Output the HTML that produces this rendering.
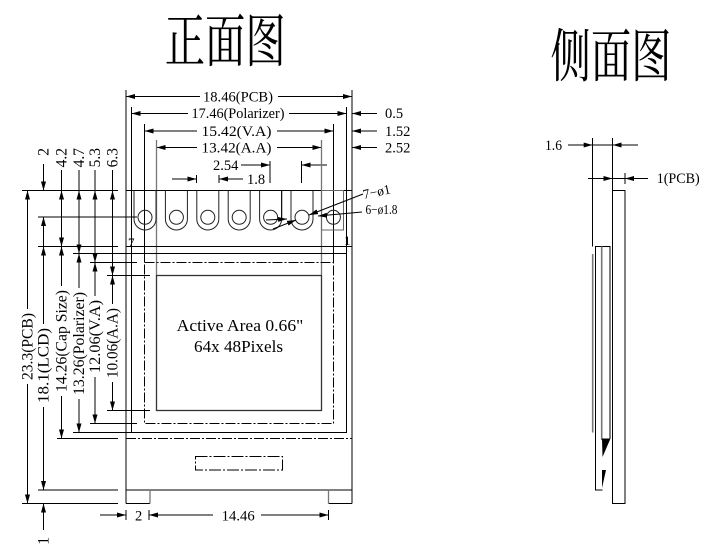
<!DOCTYPE html>
<html><head><meta charset="utf-8"><style>
html,body{margin:0;padding:0;background:#fff;}
svg{display:block;}
text{font-family:"Liberation Serif","Noto Serif CJK SC",serif;fill:#000;}
.cjk{font-family:"Noto Serif CJK SC","Noto Sans CJK SC",serif;}
</style></head><body>
<svg width="714" height="547" viewBox="0 0 714 547" xmlns="http://www.w3.org/2000/svg">
<defs>
<marker id="a" markerWidth="9" markerHeight="5" refX="9" refY="2.5" orient="auto" markerUnits="userSpaceOnUse"><path d="M0,0L9,2.5L0,5z" fill="#000"/></marker>
</defs>
<rect x="0" y="0" width="714" height="547" fill="#fff"/>

<!-- titles -->
<text class="cjk" x="164.7" y="61.5" font-size="58" textLength="121" lengthAdjust="spacingAndGlyphs">正面图</text>
<text class="cjk" x="550.5" y="76.5" font-size="58" textLength="121" lengthAdjust="spacingAndGlyphs">侧面图</text>

<g stroke="#000" stroke-width="1" fill="none">
<!-- top horizontal dims -->
<line x1="200" y1="96.5" x2="126" y2="96.5" marker-end="url(#a)"/>
<line x1="278" y1="96.5" x2="352" y2="96.5" marker-end="url(#a)"/>
<line x1="188" y1="113.5" x2="131.5" y2="113.5" marker-end="url(#a)"/>
<line x1="289" y1="113.5" x2="346.5" y2="113.5" marker-end="url(#a)"/>
<line x1="377" y1="113.5" x2="352" y2="113.5" marker-end="url(#a)"/>
<line x1="197" y1="131" x2="144.5" y2="131" marker-end="url(#a)"/>
<line x1="277" y1="131" x2="333.5" y2="131" marker-end="url(#a)"/>
<line x1="377" y1="131" x2="352" y2="131" marker-end="url(#a)"/>
<line x1="197" y1="147.5" x2="156.5" y2="147.5" marker-end="url(#a)"/>
<line x1="277" y1="147.5" x2="321.5" y2="147.5" marker-end="url(#a)"/>
<line x1="377" y1="147.5" x2="352" y2="147.5" marker-end="url(#a)"/>
<!-- 2.54 -->
<line x1="241" y1="165" x2="270" y2="165" marker-end="url(#a)"/>
<line x1="327" y1="165" x2="301.5" y2="165" marker-end="url(#a)"/>
<line x1="270" y1="161" x2="270" y2="183"/>
<line x1="301.5" y1="161" x2="301.5" y2="183"/>
<!-- 1.8 -->
<line x1="172" y1="179" x2="196.5" y2="179" marker-end="url(#a)"/>
<line x1="243" y1="179" x2="219" y2="179" marker-end="url(#a)"/>
<line x1="196.5" y1="175" x2="196.5" y2="183"/>
<line x1="219" y1="175" x2="219" y2="183"/>

<!-- vertical extension lines -->
<line x1="126" y1="90" x2="126" y2="503.5"/>
<line x1="352" y1="90" x2="352" y2="503.5"/>
<line x1="131.5" y1="107" x2="131.5" y2="432.5"/>
<line x1="346.5" y1="107" x2="346.5" y2="432.5"/>
<line x1="144.5" y1="124" x2="144.5" y2="262.5"/>
<line x1="333.5" y1="124" x2="333.5" y2="262.5"/>
<line x1="156.5" y1="140" x2="156.5" y2="275.5" stroke="#777" stroke-width="1.3"/>
<line x1="321.5" y1="140" x2="321.5" y2="275.5" stroke="#777" stroke-width="1.3"/>

<!-- PCB top -->
<line x1="22" y1="190.5" x2="118" y2="190.5"/>
<line x1="126" y1="190.5" x2="352" y2="190.5"/>

<!-- slots -->
<g stroke="#222">
<path d="M134,190.5V219A11,11 0 0 0 156,219V190.5"/>
<path d="M165.4,190.5V219A11,11 0 0 0 187.4,219V190.5"/>
<path d="M196.8,190.5V219A11,11 0 0 0 218.8,219V190.5"/>
<path d="M228.2,190.5V219A11,11 0 0 0 250.2,219V190.5"/>
<path d="M259.6,190.5V219A11,11 0 0 0 281.6,219V190.5"/>
<path d="M291,190.5V219A11,11 0 0 0 313,219V190.5"/>
<circle cx="145" cy="217.3" r="7"/>
<circle cx="176.4" cy="217.3" r="7"/>
<circle cx="207.8" cy="217.3" r="7"/>
<circle cx="239.2" cy="217.3" r="7"/>
<circle cx="270.6" cy="217.3" r="7"/>
<circle cx="302" cy="217.3" r="7"/>
<circle cx="333.4" cy="217.3" r="7"/>
</g>
<rect x="321.5" y="190.5" width="22" height="39.5" stroke="#666"/>
<line x1="281.7" y1="190.5" x2="281.7" y2="219"/>

<!-- leaders -->
<line x1="363" y1="194" x2="309" y2="215" marker-end="url(#a)"/>
<line x1="273" y1="229" x2="296" y2="220" marker-end="url(#a)"/>
<line x1="266" y1="220" x2="287" y2="219" marker-end="url(#a)"/>
<line x1="362" y1="212" x2="318" y2="216" marker-end="url(#a)"/>

<!-- pin line -->
<line x1="38" y1="217" x2="137" y2="217"/>

<!-- LCD -->
<line x1="38" y1="246.5" x2="118" y2="246.5"/>
<line x1="126" y1="246.5" x2="352" y2="246.5"/>
<line x1="73" y1="253.5" x2="131.5" y2="253.5"/>
<line x1="90" y1="262.5" x2="137" y2="262.5"/>
<line x1="107" y1="275.5" x2="150" y2="275.5"/>
<rect x="131.5" y="253.5" width="215" height="179"/>
<rect x="144.5" y="262.5" width="189" height="161" stroke-dasharray="10 2 2 2"/>
<rect x="156.5" y="275.5" width="165" height="135" stroke="#333" stroke-width="1.3"/>
<line x1="107" y1="410.5" x2="150" y2="410.5"/>
<line x1="90" y1="423.5" x2="137" y2="423.5"/>
<line x1="73" y1="432.5" x2="131.5" y2="432.5"/>
<line x1="57" y1="438.5" x2="118" y2="438.5"/>
<line x1="126" y1="438.5" x2="352" y2="438.5" stroke-dasharray="10 2 2 2"/>
<rect x="195.5" y="456.5" width="87" height="13.5" stroke-dasharray="12 2 2 2"/>
<line x1="38" y1="490" x2="118" y2="490"/>
<line x1="126" y1="490" x2="352" y2="490"/>
<line x1="22" y1="503.5" x2="118" y2="503.5"/>
<!-- feet -->
<line x1="126" y1="503.5" x2="150" y2="503.5"/>
<line x1="150" y1="490" x2="150" y2="503.5" stroke="#777" stroke-width="1.3"/>
<line x1="328.5" y1="503.5" x2="352" y2="503.5"/>
<line x1="328.5" y1="490" x2="328.5" y2="503.5" stroke="#777" stroke-width="1.3"/>

<!-- bottom dims -->
<line x1="100" y1="515" x2="126" y2="515" marker-end="url(#a)"/>
<line x1="213" y1="515" x2="149" y2="515" marker-end="url(#a)"/>
<line x1="261" y1="515" x2="328.5" y2="515" marker-end="url(#a)"/>
<line x1="126" y1="510" x2="126" y2="520"/>
<line x1="149" y1="510" x2="149" y2="520"/>
<line x1="328.5" y1="510" x2="328.5" y2="520"/>

<!-- vertical dims -->
<line x1="27.5" y1="309" x2="27.5" y2="190.5" marker-end="url(#a)"/>
<line x1="27.5" y1="384" x2="27.5" y2="503.5" marker-end="url(#a)"/>

<line x1="43.5" y1="164" x2="43.5" y2="190.5" marker-end="url(#a)"/>
<line x1="43.5" y1="246.5" x2="43.5" y2="217" marker-end="url(#a)"/>
<line x1="43.5" y1="324" x2="43.5" y2="246.5" marker-end="url(#a)"/>
<line x1="43.5" y1="407" x2="43.5" y2="490" marker-end="url(#a)"/>
<line x1="43.5" y1="530" x2="43.5" y2="503.5" marker-end="url(#a)"/>

<line x1="61.5" y1="170" x2="61.5" y2="190.5"/>
<line x1="61.5" y1="218" x2="61.5" y2="190.5" marker-end="url(#a)"/>
<line x1="61.5" y1="218" x2="61.5" y2="246.5" marker-end="url(#a)"/>
<line x1="61.5" y1="286" x2="61.5" y2="246.5" marker-end="url(#a)"/>
<line x1="61.5" y1="396" x2="61.5" y2="438.5" marker-end="url(#a)"/>

<line x1="79" y1="170" x2="79" y2="190.5"/>
<line x1="79" y1="222" x2="79" y2="190.5" marker-end="url(#a)"/>
<line x1="79" y1="222" x2="79" y2="253.5" marker-end="url(#a)"/>
<line x1="79" y1="288" x2="79" y2="253.5" marker-end="url(#a)"/>
<line x1="79" y1="399" x2="79" y2="432.5" marker-end="url(#a)"/>

<line x1="95" y1="170" x2="95" y2="190.5"/>
<line x1="95" y1="226" x2="95" y2="190.5" marker-end="url(#a)"/>
<line x1="95" y1="226" x2="95" y2="262.5" marker-end="url(#a)"/>
<line x1="95" y1="296" x2="95" y2="262.5" marker-end="url(#a)"/>
<line x1="95" y1="377" x2="95" y2="423.5" marker-end="url(#a)"/>

<line x1="112.5" y1="170" x2="112.5" y2="190.5"/>
<line x1="112.5" y1="233" x2="112.5" y2="190.5" marker-end="url(#a)"/>
<line x1="112.5" y1="233" x2="112.5" y2="275.5" marker-end="url(#a)"/>
<line x1="112.5" y1="304" x2="112.5" y2="275.5" marker-end="url(#a)"/>
<line x1="112.5" y1="382" x2="112.5" y2="410.5" marker-end="url(#a)"/>

<!-- side view -->
<line x1="568" y1="145" x2="592.7" y2="145" marker-end="url(#a)"/>
<line x1="638" y1="145" x2="612.7" y2="145" marker-end="url(#a)"/>
<line x1="592.7" y1="145" x2="612.7" y2="145"/>
<line x1="592.5" y1="138" x2="592.5" y2="246.5"/>
<line x1="612.5" y1="138" x2="612.5" y2="190.5"/>
<line x1="588" y1="178.5" x2="612.5" y2="178.5" marker-end="url(#a)"/>
<line x1="648" y1="178.5" x2="625" y2="178.5" marker-end="url(#a)"/>
<line x1="612.5" y1="178.5" x2="625" y2="178.5"/>
<line x1="625" y1="173" x2="625" y2="184"/>
<rect x="612.5" y="190.5" width="12.5" height="313"/>
<path d="M610,438.5V246.5H595.5V490H602.5"/>
<line x1="601.7" y1="246.5" x2="601.7" y2="440" stroke="#777" stroke-width="1.6"/>
<line x1="592.7" y1="254" x2="592.7" y2="432.5" stroke="#777" stroke-width="1.6"/>
</g>
<polygon points="602,438.5 610.5,438.5 602.5,457" fill="#000"/>
<polygon points="602,470 606,470 602,488" fill="#000"/>

<!-- top texts -->
<text x="203" y="101.5" font-size="14.5" textLength="70" lengthAdjust="spacingAndGlyphs">18.46(PCB)</text>
<text x="191.5" y="118" font-size="14.5" textLength="93" lengthAdjust="spacingAndGlyphs">17.46(Polarizer)</text>
<text x="201.5" y="136" font-size="14.5" textLength="70" lengthAdjust="spacingAndGlyphs">15.42(V.A)</text>
<text x="201.5" y="152.5" font-size="14.5" textLength="70" lengthAdjust="spacingAndGlyphs">13.42(A.A)</text>
<text x="385" y="118" font-size="14.5">0.5</text>
<text x="385" y="136" font-size="14.5">1.52</text>
<text x="385" y="152.5" font-size="14.5">2.52</text>
<text x="213" y="170" font-size="14.5">2.54</text>
<text x="247" y="184" font-size="14.5">1.8</text>
<text x="364" y="199" font-size="13.5" transform="rotate(-12 364 199)">7−ø1</text>
<text x="365.5" y="214" font-size="13.5" textLength="32" lengthAdjust="spacingAndGlyphs">6−ø1.8</text>
<text x="128" y="247" font-size="13">7</text>
<text x="344" y="245" font-size="13">1</text>

<!-- rotated top labels -->
<text transform="translate(48.5,148) rotate(-90)" text-anchor="end" font-size="15.5">2</text>
<text transform="translate(66.5,148) rotate(-90)" text-anchor="end" font-size="15.5">4.2</text>
<text transform="translate(84,148) rotate(-90)" text-anchor="end" font-size="15.5">4.7</text>
<text transform="translate(100,148) rotate(-90)" text-anchor="end" font-size="15.5">5.3</text>
<text transform="translate(117.5,148) rotate(-90)" text-anchor="end" font-size="15.5">6.3</text>

<!-- rotated lower labels -->
<text transform="translate(32.5,380) rotate(-90)" font-size="15.5" textLength="67" lengthAdjust="spacingAndGlyphs">23.3(PCB)</text>
<text transform="translate(48.5,403) rotate(-90)" font-size="15.5" textLength="75" lengthAdjust="spacingAndGlyphs">18.1(LCD)</text>
<text transform="translate(66.5,392) rotate(-90)" font-size="15.5" textLength="102" lengthAdjust="spacingAndGlyphs">14.26(Cap Size)</text>
<text transform="translate(84,395) rotate(-90)" font-size="15.5" textLength="103" lengthAdjust="spacingAndGlyphs">13.26(Polarizer)</text>
<text transform="translate(100,373) rotate(-90)" font-size="15.5" textLength="73" lengthAdjust="spacingAndGlyphs">12.06(V.A)</text>
<text transform="translate(117.5,378) rotate(-90)" font-size="15.5" textLength="70" lengthAdjust="spacingAndGlyphs">10.06(A.A)</text>
<text transform="translate(48.5,537) rotate(-90)" text-anchor="end" font-size="15.5">1</text>

<!-- center text -->
<text x="176.7" y="331" font-size="17" textLength="126.6" lengthAdjust="spacingAndGlyphs">Active Area 0.66"</text>
<text x="194" y="352" font-size="17" textLength="89" lengthAdjust="spacingAndGlyphs">64x 48Pixels</text>

<!-- bottom texts -->
<text x="135" y="520.5" font-size="14.5">2</text>
<text x="221.7" y="520.5" font-size="14.5" textLength="33" lengthAdjust="spacingAndGlyphs">14.46</text>

<!-- side view texts -->
<text x="545" y="150" font-size="14.5" textLength="17" lengthAdjust="spacingAndGlyphs">1.6</text>
<text x="656.7" y="183" font-size="14.5" textLength="43" lengthAdjust="spacingAndGlyphs">1(PCB)</text>
</svg>
</body></html>
